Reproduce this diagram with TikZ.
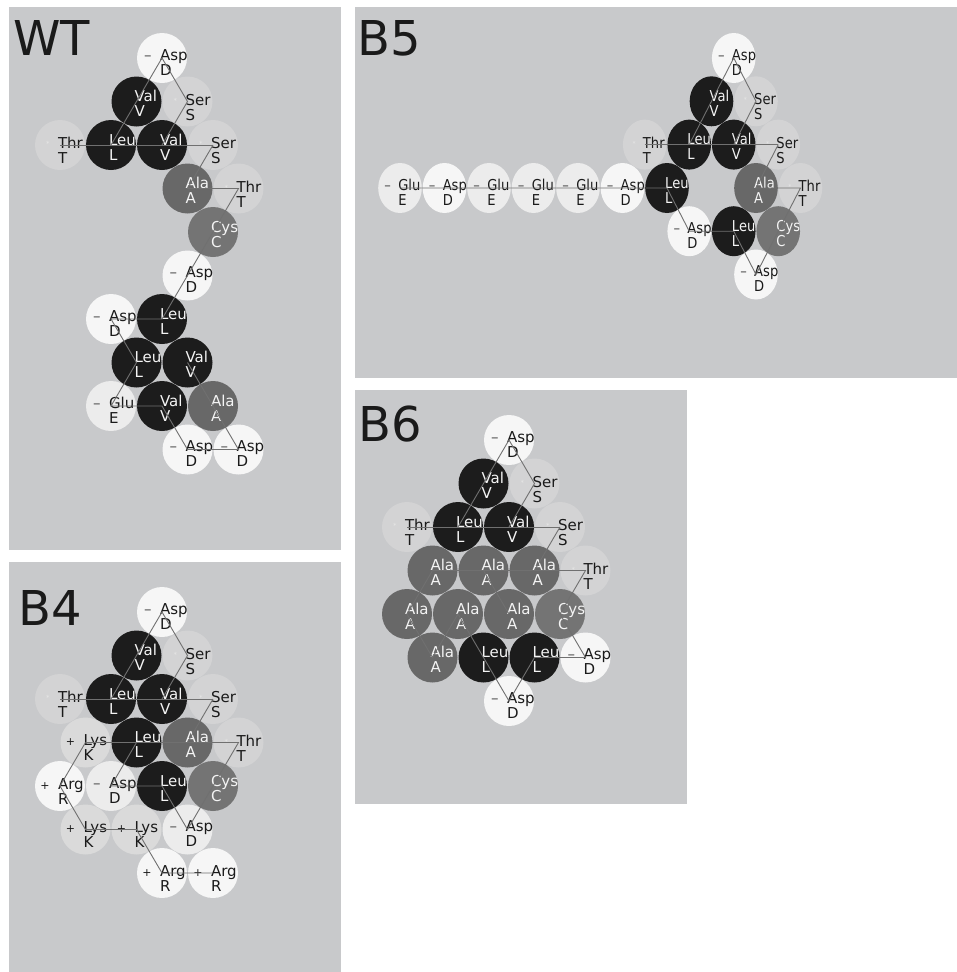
\documentclass[tikz,border=0pt]{standalone}
\usepackage{fontspec}
\newfontfamily\resfam{DejaVu Sans}
\newcommand{\resfont}{\resfam\fontsize{15}{15}\selectfont}
\newcommand{\titlefont}{\resfam\fontsize{48}{48}\selectfont}
\definecolor{cBg}{HTML}{C8C9CB}
\definecolor{cBlack}{HTML}{1C1C1C}
\definecolor{cAla}{HTML}{686868}
\definecolor{cCys}{HTML}{747474}
\definecolor{cWhite}{HTML}{F6F6F6}
\definecolor{cGlu}{HTML}{ECECEC}
\definecolor{cPolar}{HTML}{D3D3D4}
\definecolor{cLys}{HTML}{DADADA}
\definecolor{cText}{HTML}{1A1A1A}
\definecolor{cLight}{HTML}{F4F4F4}
\definecolor{cLine}{HTML}{707070}
\definecolor{cMinus}{HTML}{555555}
\definecolor{cStar}{HTML}{E6E6E6}
\definecolor{cTitle}{HTML}{1A1A1A}
\newcommand{\chgm}{\textcolor{cMinus}{–}}
\newcommand{\chgp}{{\fontsize{11}{11}\selectfont\textcolor{cText}{+}}}
\newcommand{\chgs}{\raisebox{2pt}{\fontsize{7}{7}\selectfont\textcolor{cStar}{*}}}
\newcommand{\rtxt}[3]{\llap{#1\hspace{10.5pt}}\rlap{\hspace*{-2pt}\smash{\vtop{\hbox{#2}\hbox{#3}}}}}
\newcommand{\aares}[7]{\node[#1] (#2) at (#3,#4) {\rtxt{#5}{#6}{#7}};}
\tikzset{
  res/.style={circle, minimum size=50pt, inner sep=0pt, outer sep=0pt, font=\resfont},
  hyd/.style={res, fill=cBlack, text=cLight},
  ala/.style={res, fill=cAla, text=cLight},
  cys/.style={res, fill=cCys, text=cLight},
  acid/.style={res, fill=cWhite, text=cText},
  glu/.style={res, fill=cGlu, text=cText},
  polar/.style={res, fill=cPolar, text=cText},
  lys/.style={res, fill=cLys, text=cText},
  link/.style={draw=cLine, line width=0.9pt},
  paneltitle/.style={anchor=base west, font=\titlefont, text=cTitle, inner sep=0pt},
  panel/.style={fill=cBg},
}
\begin{document}
\begin{tikzpicture}[x=1pt, y=-1pt]
\useasboundingbox (0,0) rectangle (957,972);
\fill[white] (0,0) rectangle (957,972);
% panels
\fill[panel] (9,7) rectangle (341,550);
\fill[panel] (355,7) rectangle (957,378);
\fill[panel] (9,562) rectangle (341,972);
\fill[panel] (355,390) rectangle (687,804);
\node[paneltitle] (tWT) at (13,55) {WT};
\node[paneltitle] (tB5) at (357,55) {B5};
\node[paneltitle] (tB4) at (18.3,625) {B4};
\node[paneltitle] (tB6) at (358.3,441.7) {B6};

% ---------------- WT ----------------
\aares{acid}{wa0}{162}{58}{\chgm}{Asp}{D}
\aares{hyd}{wv1}{136.5}{101.5}{}{Val}{V}
\aares{polar}{ws1}{187.5}{101.5}{\chgs}{Ser}{S}
\aares{polar}{wt2}{60}{145}{\chgs}{Thr}{T}
\aares{hyd}{wl2}{111}{145}{}{Leu}{L}
\aares{hyd}{wv2}{162}{145}{}{Val}{V}
\aares{polar}{ws2}{213}{145}{\chgs}{Ser}{S}
\aares{ala}{wa3}{187.5}{188.5}{}{Ala}{A}
\aares{polar}{wt3}{238.5}{188.5}{\chgs}{Thr}{T}
\aares{cys}{wc4}{213}{232}{}{Cys}{C}
\aares{acid}{wd5}{187.5}{275.5}{\chgm}{Asp}{D}
\aares{acid}{wd6}{111}{319}{\chgm}{Asp}{D}
\aares{hyd}{wl6}{162}{319}{}{Leu}{L}
\aares{hyd}{wl7}{136.5}{362.5}{}{Leu}{L}
\aares{hyd}{wv7}{187.5}{362.5}{}{Val}{V}
\aares{glu}{we8}{111}{406}{\chgm}{Glu}{E}
\aares{hyd}{wv8}{162}{406}{}{Val}{V}
\aares{ala}{wa8}{213}{406}{}{Ala}{A}
\aares{acid}{wd9}{187.5}{449.5}{\chgm}{Asp}{D}
\aares{acid}{wdd9}{238.5}{449.5}{\chgm}{Asp}{D}
\draw[link] (wl2.center) -- (wv1.center) -- (wa0.center) -- (ws1.center) -- (wv2.center);
\draw[link] (wt2.center) -- (ws2.center);
\draw[link] (ws2.center) -- (wa3.center) -- (wt3.center) -- (wc4.center) -- (wd5.center) -- (wl6.center) -- (wd6.center) -- (wl7.center) -- (we8.center) -- (wv8.center) -- (wd9.center) -- (wdd9.center) -- (wa8.center) -- (wv7.center);

% ---------------- B4 ----------------
\aares{acid}{ba0}{162}{612}{\chgm}{Asp}{D}
\aares{hyd}{bv1}{136.5}{655.5}{}{Val}{V}
\aares{polar}{bs1}{187.5}{655.5}{\chgs}{Ser}{S}
\aares{polar}{bt2}{60}{699}{\chgs}{Thr}{T}
\aares{hyd}{bl2}{111}{699}{}{Leu}{L}
\aares{hyd}{bv2}{162}{699}{}{Val}{V}
\aares{polar}{bs2}{213}{699}{\chgs}{Ser}{S}
\aares{lys}{bk3}{85.5}{742.5}{\chgp}{Lys}{K}
\aares{hyd}{bl3}{136.5}{742.5}{}{Leu}{L}
\aares{ala}{ba3}{187.5}{742.5}{}{Ala}{A}
\aares{polar}{bt3}{238.5}{742.5}{\chgs}{Thr}{T}
\aares{acid}{br4}{60}{786}{\chgp}{Arg}{R}
\aares{glu}{bd4}{111}{786}{\chgm}{Asp}{D}
\aares{hyd}{bl4}{162}{786}{}{Leu}{L}
\aares{cys}{bc4}{213}{786}{}{Cys}{C}
\aares{lys}{bk5}{85.5}{829.5}{\chgp}{Lys}{K}
\aares{lys}{bkk5}{136.5}{829.5}{\chgp}{Lys}{K}
\aares{glu}{bd5}{187.5}{829.5}{\chgm}{Asp}{D}
\aares{acid}{br6}{162}{873}{\chgp}{Arg}{R}
\aares{acid}{brr6}{213}{873}{\chgp}{Arg}{R}
\draw[link] (bl2.center) -- (bv1.center) -- (ba0.center) -- (bs1.center) -- (bv2.center);
\draw[link] (bt2.center) -- (bs2.center);
\draw[link] (bs2.center) -- (ba3.center);
\draw[link] (bk3.center) -- (bt3.center) -- (bc4.center) -- (bd5.center) -- (bl4.center) -- (bd4.center) -- (bl3.center);
\draw[link] (bk3.center) -- (br4.center) -- (bk5.center) -- (bkk5.center) -- (br6.center) -- (brr6.center);

% ---------------- B6 ----------------
\aares{acid}{sa0}{509}{440}{\chgm}{Asp}{D}
\aares{hyd}{sv1}{483.5}{483.5}{}{Val}{V}
\aares{polar}{ss1}{534.5}{483.5}{\chgs}{Ser}{S}
\aares{polar}{st2}{407}{527}{\chgs}{Thr}{T}
\aares{hyd}{sl2}{458}{527}{}{Leu}{L}
\aares{hyd}{sv2}{509}{527}{}{Val}{V}
\aares{polar}{ss2}{560}{527}{\chgs}{Ser}{S}
\aares{ala}{sa3a}{432.5}{570.5}{}{Ala}{A}
\aares{ala}{sa3b}{483.5}{570.5}{}{Ala}{A}
\aares{ala}{sa3c}{534.5}{570.5}{}{Ala}{A}
\aares{polar}{st3}{585.5}{570.5}{\chgs}{Thr}{T}
\aares{ala}{sa4a}{407}{614}{}{Ala}{A}
\aares{ala}{sa4b}{458}{614}{}{Ala}{A}
\aares{ala}{sa4c}{509}{614}{}{Ala}{A}
\aares{cys}{sc4}{560}{614}{}{Cys}{C}
\aares{ala}{sa5}{432.5}{657.5}{}{Ala}{A}
\aares{hyd}{sl5a}{483.5}{657.5}{}{Leu}{L}
\aares{hyd}{sl5b}{534.5}{657.5}{}{Leu}{L}
\aares{acid}{sd5}{585.5}{657.5}{\chgm}{Asp}{D}
\aares{acid}{sd6}{509}{701}{\chgm}{Asp}{D}
\draw[link] (sl2.center) -- (sv1.center) -- (sa0.center) -- (ss1.center) -- (sv2.center);
\draw[link] (st2.center) -- (ss2.center);
\draw[link] (ss2.center) -- (sa3c.center);
\draw[link] (sa3a.center) -- (st3.center) -- (sc4.center) -- (sd5.center) -- (sl5b.center) -- (sd6.center) -- (sl5a.center) -- (sa4b.center) -- (sa5.center) -- (sa4a.center) -- (sa3a.center);
\draw[link] (sa3b.center) -- (sa4c.center);

% ---------------- B5 ----------------
\begin{scope}[shift={(400,0)}, xscale=0.8725, every node/.append style={transform shape}]
\aares{acid}{fa0}{382.5}{58}{\chgm}{Asp}{D}
\aares{hyd}{fv1}{357}{101.3}{}{Val}{V}
\aares{polar}{fs1}{408}{101.3}{\chgs}{Ser}{S}
\aares{polar}{ft2}{280.5}{144.6}{\chgs}{Thr}{T}
\aares{hyd}{fl2}{331.5}{144.6}{}{Leu}{L}
\aares{hyd}{fv2}{382.5}{144.6}{}{Val}{V}
\aares{polar}{fs2}{433.5}{144.6}{\chgs}{Ser}{S}
\aares{glu}{fe1}{0}{188}{\chgm}{Glu}{E}
\aares{acid}{fd1}{51}{188}{\chgm}{Asp}{D}
\aares{glu}{fe2}{102}{188}{\chgm}{Glu}{E}
\aares{glu}{fe3}{153}{188}{\chgm}{Glu}{E}
\aares{glu}{fe4}{204}{188}{\chgm}{Glu}{E}
\aares{acid}{fd2}{255}{188}{\chgm}{Asp}{D}
\aares{hyd}{fl3}{306}{188}{}{Leu}{L}
\aares{ala}{fa3}{408}{188}{}{Ala}{A}
\aares{polar}{ft3}{459}{188}{\chgs}{Thr}{T}
\aares{acid}{fd4}{331.5}{231.2}{\chgm}{Asp}{D}
\aares{hyd}{fl4}{382.5}{231.2}{}{Leu}{L}
\aares{cys}{fc4}{433.5}{231.2}{}{Cys}{C}
\aares{acid}{fd5}{408}{274.5}{\chgm}{Asp}{D}
\draw[link] (fl2.center) -- (fv1.center) -- (fa0.center) -- (fs1.center) -- (fv2.center);
\draw[link] (ft2.center) -- (fs2.center);
\draw[link] (fs2.center) -- (fa3.center) -- (ft3.center) -- (fc4.center) -- (fd5.center) -- (fl4.center) -- (fd4.center) -- (fl3.center) -- (fe1.center);
\end{scope}
\end{tikzpicture}
\end{document}
